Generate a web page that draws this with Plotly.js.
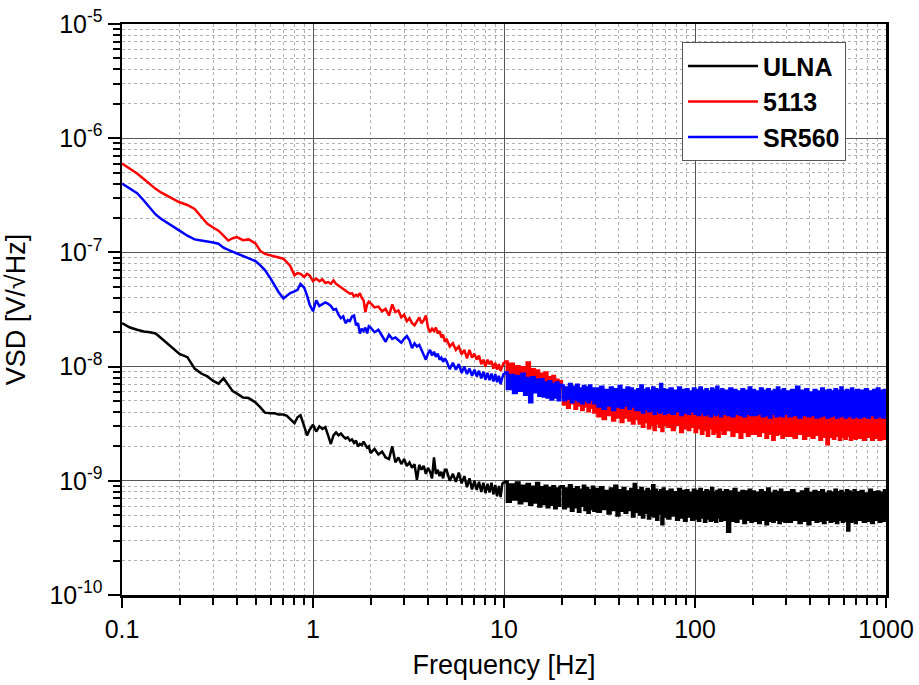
<!DOCTYPE html>
<html><head><meta charset="utf-8">
<script src="https://cdn.plot.ly/plotly-3.0.1.min.js"></script>
<style>html,body{margin:0;padding:0;background:#fff}#chart{width:919px;height:685px}</style>
</head><body><div id="chart"></div>
<script>
// Frequency grid [Hz], shared by all three spectra
const freqHz = [
0.1,0.11,0.12,0.13,0.14,0.15,0.16,0.18,0.2,0.22,0.24,0.26,0.28,0.3,0.32,0.34,0.36,0.38,0.4,0.43,0.46,0.5,0.53,0.56,0.6,0.63,0.66,0.7,0.73,0.76,0.8,0.83,0.86,0.9,0.93,0.96,
1,1.04,1.08,1.12,1.16,1.2,1.24,1.28,1.32,1.36,1.4,1.44,1.48,1.52,1.56,1.6,1.64,1.68,1.72,1.76,1.8,1.84,1.88,1.92,1.96,
2,2.1,2.2,2.3,2.4,2.5,2.6,2.7,2.8,2.9,3,3.1,3.2,3.3,3.4,3.5,3.6,3.7,3.8,3.9,4,4.1,4.2,4.3,4.4,4.5,4.6,4.7,4.8,4.9,
5,5.2,5.4,5.6,5.8,6,6.2,6.4,6.6,6.8,7,7.2,7.4,7.6,7.8,8,8.2,8.4,8.6,8.8,9,9.2,9.4,9.6,9.8,
10,10.4,10.8,11.2,11.6,12,12.4,12.8,13.2,13.6,14,14.4,14.8,15.2,15.6,16,16.4,16.8,17.2,17.6,18,18.4,18.8,19.2,19.6,
20,20.5,21,21.5,22,22.5,23,23.5,24,24.5,25,25.5,26,26.5,27,27.5,28,28.5,29,29.5,
30,31,32,33,34,35,36,37,38,39,40,41,42,43,44,45,46,47,48,49,
50,51,52,53,54,55,56,57,58,59,60,61,62,63,64,65,66,67,68,69,
70,72,74,76,78,80,82,84,86,88,90,92,94,96,98,
100,102,104,106,108,110,112,114,116,118,120,122,124,126,128,130,132,134,136,138,
140,144,148,152,156,160,164,168,172,176,180,184,188,192,196,
200,205,210,215,220,225,230,235,240,245,250,255,260,265,270,275,280,285,290,295,
300,310,320,330,340,350,360,370,380,390,400,410,420,430,440,450,460,470,480,490,
500,510,520,530,540,550,560,570,580,590,600,610,620,630,640,650,660,670,680,690,
700,720,740,760,780,800,820,840,860,880,900,920,940,960,980,1000
];

// ULNA  [V/sqrt(Hz)]
const ulna = [
2.4e-8,2.2e-8,2.1e-8,2.03e-8,2.0e-8,1.95e-8,1.78e-8,1.5e-8,1.29e-8,1.21e-8,9.6e-9,8.7e-9,8.2e-9,7.5e-9,7.1e-9,7.9e-9,7.0e-9,6.1e-9,5.8e-9,5.35e-9,5.3e-9,4.85e-9,4.4e-9,3.95e-9,3.9e-9,3.9e-9,3.8e-9,3.8e-9,3.7e-9,3.5e-9,3.2e-9,3.6e-9,3.75e-9,3.0e-9,2.5e-9,2.8e-9,
3.1e-9,2.7e-9,3.0e-9,2.85e-9,2.95e-9,2.5e-9,2.1e-9,2.5e-9,2.65e-9,2.5e-9,2.6e-9,2.45e-9,2.35e-9,2.4e-9,2.25e-9,2.3e-9,2.15e-9,2.25e-9,2.0e-9,2.1e-9,2.05e-9,2.2e-9,2.05e-9,1.95e-9,2.0e-9,
1.75e-9,1.9e-9,1.7e-9,1.8e-9,1.6e-9,1.55e-9,2.0e-9,1.45e-9,1.6e-9,1.4e-9,1.55e-9,1.35e-9,1.45e-9,1.3e-9,1.4e-9,1.02e-9,1.38e-9,1.25e-9,1.35e-9,1.15e-9,1.3e-9,1.2e-9,1.05e-9,1.6e-9,1.15e-9,1.25e-9,1.1e-9,1.2e-9,1.05e-9,1.25e-9,
1.25e-9,1.0e-9,1.15e-9,9.8e-10,1.18e-9,9.5e-10,1.1e-9,8.8e-10,1.05e-9,8.4e-10,1.0e-9,8.3e-10,9.8e-10,8.0e-10,9.6e-10,7.8e-10,9.4e-10,7.9e-10,9.6e-10,7.6e-10,9.2e-10,7.3e-10,9.0e-10,7.2e-10,9.4e-10,
9.8e-10,6.6e-10,9.2e-10,6.9e-10,9.6e-10,6.4e-10,9.0e-10,6.7e-10,9.3e-10,6.2e-10,8.8e-10,6.5e-10,9.5e-10,6.0e-10,8.7e-10,6.3e-10,9.0e-10,5.9e-10,8.6e-10,6.2e-10,8.9e-10,5.8e-10,8.5e-10,6.1e-10,8.8e-10,
8.9e-10,5.8e-10,8.5e-10,6.0e-10,9.1e-10,5.5e-10,8.4e-10,5.9e-10,8.7e-10,5.4e-10,8.3e-10,6.1e-10,9.0e-10,5.6e-10,8.6e-10,5.3e-10,8.2e-10,5.7e-10,8.8e-10,5.5e-10,
8.4e-10,5.4e-10,8.7e-10,5.7e-10,8.1e-10,5.2e-10,8.5e-10,5.6e-10,9.0e-10,5.0e-10,8.2e-10,5.5e-10,8.6e-10,5.3e-10,8.0e-10,5.6e-10,8.4e-10,4.9e-10,9.3e-10,5.4e-10,
8.2e-10,5.1e-10,8.6e-10,4.8e-10,8.0e-10,5.3e-10,8.4e-10,4.7e-10,8.1e-10,5.0e-10,9.1e-10,4.9e-10,8.3e-10,4.6e-10,7.9e-10,5.2e-10,8.2e-10,4.2e-10,8.5e-10,4.9e-10,
8.0e-10,4.7e-10,8.3e-10,5.0e-10,7.9e-10,4.6e-10,8.4e-10,4.8e-10,8.1e-10,4.5e-10,8.2e-10,4.9e-10,7.8e-10,4.6e-10,8.3e-10,
4.7e-10,8.1e-10,4.5e-10,8.4e-10,4.8e-10,7.9e-10,4.4e-10,8.2e-10,4.7e-10,8.0e-10,4.5e-10,8.6e-10,4.6e-10,7.8e-10,4.4e-10,8.1e-10,4.8e-10,8.3e-10,4.5e-10,7.9e-10,
4.6e-10,8.2e-10,3.6e-10,8.0e-10,4.5e-10,8.4e-10,4.4e-10,7.8e-10,4.7e-10,8.1e-10,4.3e-10,8.0e-10,4.6e-10,8.3e-10,4.4e-10,
8.0e-10,4.5e-10,7.8e-10,4.3e-10,8.2e-10,4.6e-10,7.9e-10,4.2e-10,8.5e-10,4.5e-10,7.7e-10,4.4e-10,8.1e-10,4.6e-10,7.9e-10,4.3e-10,8.3e-10,4.5e-10,7.8e-10,4.4e-10,
7.9e-10,4.4e-10,8.2e-10,4.6e-10,7.7e-10,4.3e-10,8.0e-10,4.5e-10,8.4e-10,4.2e-10,7.8e-10,4.6e-10,8.1e-10,4.4e-10,7.9e-10,4.5e-10,8.2e-10,4.3e-10,7.7e-10,4.6e-10,
8.0e-10,4.4e-10,7.8e-10,4.5e-10,8.3e-10,4.3e-10,7.9e-10,4.6e-10,8.1e-10,4.4e-10,7.7e-10,4.5e-10,8.2e-10,3.7e-10,8.0e-10,4.4e-10,7.8e-10,4.5e-10,8.2e-10,4.3e-10,
7.9e-10,4.6e-10,8.1e-10,4.4e-10,7.7e-10,4.5e-10,8.3e-10,4.3e-10,7.9e-10,4.6e-10,8.0e-10,4.4e-10,7.8e-10,4.5e-10,8.2e-10,4.6e-10
];

// 5113  [V/sqrt(Hz)]
const pre5113 = [
6.0e-7,5.4e-7,4.9e-7,4.4e-7,3.95e-7,3.6e-7,3.35e-7,3.0e-7,2.75e-7,2.6e-7,2.4e-7,2.05e-7,1.78e-7,1.65e-7,1.55e-7,1.4e-7,1.27e-7,1.33e-7,1.36e-7,1.28e-7,1.3e-7,1.2e-7,1.03e-7,9.7e-8,9.4e-8,9.2e-8,9.1e-8,8.8e-8,8.2e-8,7.6e-8,6.3e-8,6.6e-8,6.5e-8,6.1e-8,6.5e-8,6.3e-8,
5.6e-8,5.9e-8,5.6e-8,5.8e-8,5.4e-8,5.5e-8,5.3e-8,5.7e-8,5.3e-8,5.1e-8,4.95e-8,4.8e-8,4.6e-8,4.5e-8,4.35e-8,4.4e-8,4.1e-8,4.25e-8,4.15e-8,4.4e-8,4.0e-8,3.8e-8,3.0e-8,3.5e-8,3.7e-8,
3.6e-8,3.3e-8,3.35e-8,3.05e-8,3.2e-8,2.8e-8,3.5e-8,3.0e-8,3.1e-8,2.7e-8,2.85e-8,2.5e-8,2.65e-8,2.4e-8,2.3e-8,2.5e-8,2.7e-8,2.4e-8,2.55e-8,2.8e-8,2.2e-8,2.0e-8,2.15e-8,2.05e-8,2.2e-8,1.95e-8,2.05e-8,1.8e-8,1.9e-8,1.65e-8,
1.75e-8,1.5e-8,1.6e-8,1.4e-8,1.5e-8,1.28e-8,1.4e-8,1.18e-8,1.4e-8,1.2e-8,1.3e-8,1.15e-8,1.25e-8,1.05e-8,1.15e-8,1.0e-8,1.15e-8,1.05e-8,1.12e-8,9.6e-9,1.08e-8,9.4e-9,1.05e-8,9.2e-9,1.02e-8,
1.1e-8,8.2e-9,1.05e-8,7.8e-9,1.0e-8,7.6e-9,9.8e-9,7.9e-9,1.08e-8,7.4e-9,9.4e-9,7.0e-9,9.2e-9,6.9e-9,8.6e-9,6.5e-9,8.8e-9,6.2e-9,8.0e-9,5.7e-9,8.2e-9,6.0e-9,7.6e-9,5.5e-9,7.4e-9,
6.6e-9,4.7e-9,6.2e-9,4.4e-9,6.8e-9,4.8e-9,6.0e-9,4.3e-9,6.4e-9,4.6e-9,5.9e-9,4.2e-9,6.3e-9,4.5e-9,5.8e-9,4.1e-9,6.1e-9,4.4e-9,5.7e-9,4.0e-9,
5.5e-9,3.7e-9,5.2e-9,3.5e-9,5.6e-9,3.8e-9,5.1e-9,3.4e-9,5.4e-9,3.6e-9,5.0e-9,3.3e-9,5.3e-9,3.6e-9,5.1e-9,3.4e-9,5.4e-9,3.2e-9,5.0e-9,3.5e-9,
5.0e-9,3.2e-9,5.2e-9,3.0e-9,4.8e-9,3.3e-9,5.1e-9,2.9e-9,4.9e-9,3.1e-9,5.2e-9,2.8e-9,4.8e-9,3.2e-9,5.0e-9,3.0e-9,4.9e-9,2.75e-9,5.1e-9,3.1e-9,
4.8e-9,3.0e-9,5.0e-9,2.8e-9,4.7e-9,3.1e-9,4.9e-9,2.7e-9,4.8e-9,2.9e-9,5.0e-9,2.8e-9,4.7e-9,3.0e-9,4.9e-9,
2.7e-9,4.8e-9,2.9e-9,4.6e-9,2.6e-9,4.9e-9,2.8e-9,4.7e-9,2.5e-9,4.8e-9,2.9e-9,4.6e-9,2.6e-9,4.9e-9,2.7e-9,4.7e-9,2.45e-9,4.8e-9,2.8e-9,4.6e-9,
2.6e-9,4.7e-9,2.8e-9,4.8e-9,2.5e-9,4.6e-9,2.7e-9,4.9e-9,2.4e-9,4.7e-9,2.7e-9,4.6e-9,2.5e-9,4.8e-9,2.6e-9,
4.7e-9,2.6e-9,4.6e-9,2.5e-9,4.8e-9,2.7e-9,4.5e-9,2.4e-9,4.7e-9,2.6e-9,4.6e-9,2.3e-9,4.8e-9,2.55e-9,4.5e-9,2.6e-9,4.7e-9,2.4e-9,4.6e-9,2.5e-9,
4.6e-9,2.5e-9,4.7e-9,2.4e-9,4.5e-9,2.6e-9,4.8e-9,2.35e-9,4.6e-9,2.5e-9,4.5e-9,2.4e-9,4.7e-9,2.55e-9,4.6e-9,2.3e-9,4.8e-9,2.45e-9,4.5e-9,2.1e-9,
4.6e-9,2.45e-9,4.7e-9,2.35e-9,4.5e-9,2.5e-9,4.6e-9,2.3e-9,4.8e-9,2.45e-9,4.5e-9,2.35e-9,4.7e-9,2.5e-9,4.6e-9,2.3e-9,4.5e-9,2.4e-9,4.7e-9,2.35e-9,
4.6e-9,2.4e-9,4.5e-9,2.3e-9,4.7e-9,2.45e-9,4.6e-9,2.3e-9,4.5e-9,2.4e-9,4.7e-9,2.3e-9,4.6e-9,2.35e-9,4.5e-9,2.3e-9
];

// SR560  [V/sqrt(Hz)]
const sr560 = [
4.0e-7,3.6e-7,3.3e-7,2.85e-7,2.45e-7,2.15e-7,1.97e-7,1.75e-7,1.55e-7,1.4e-7,1.3e-7,1.27e-7,1.25e-7,1.22e-7,1.19e-7,1.1e-7,1.05e-7,1.01e-7,9.8e-8,9.3e-8,8.9e-8,8.4e-8,7.7e-8,7.0e-8,5.9e-8,5.1e-8,4.5e-8,3.95e-8,4.15e-8,4.4e-8,4.55e-8,4.7e-8,5.3e-8,4.9e-8,4.2e-8,3.5e-8,
3.05e-8,3.8e-8,3.4e-8,3.55e-8,3.65e-8,3.55e-8,3.4e-8,3.15e-8,3.2e-8,2.85e-8,2.65e-8,2.75e-8,2.4e-8,2.55e-8,2.5e-8,2.75e-8,2.8e-8,2.3e-8,2.4e-8,1.95e-8,2.15e-8,2.05e-8,2.2e-8,1.95e-8,2.25e-8,
2.2e-8,2.0e-8,2.1e-8,1.85e-8,1.65e-8,1.9e-8,1.75e-8,1.8e-8,1.7e-8,1.62e-8,1.75e-8,1.85e-8,1.7e-8,1.45e-8,1.6e-8,1.5e-8,1.55e-8,1.4e-8,1.3e-8,1.15e-8,1.3e-8,1.4e-8,1.25e-8,1.35e-8,1.22e-8,1.3e-8,1.15e-8,1.2e-8,1.1e-8,1.18e-8,
1.12e-8,9.5e-9,1.08e-8,9.4e-9,1.05e-8,8.8e-9,1.0e-8,8.6e-9,9.6e-9,8.3e-9,9.4e-9,8.2e-9,9.2e-9,7.9e-9,9.0e-9,7.7e-9,8.8e-9,7.6e-9,8.7e-9,7.4e-9,8.6e-9,7.3e-9,8.3e-9,7.0e-9,8.0e-9,
8.8e-9,6.4e-9,8.4e-9,5.9e-9,8.2e-9,6.2e-9,8.6e-9,5.7e-9,7.9e-9,4.9e-9,8.0e-9,6.0e-9,7.6e-9,5.6e-9,7.7e-9,5.5e-9,7.2e-9,5.4e-9,7.4e-9,5.2e-9,7.0e-9,5.4e-9,7.2e-9,5.1e-9,6.9e-9,
6.8e-9,5.1e-9,6.5e-9,5.3e-9,7.0e-9,4.9e-9,6.6e-9,5.2e-9,6.9e-9,5.0e-9,6.4e-9,4.8e-9,6.7e-9,5.1e-9,6.5e-9,4.9e-9,6.8e-9,5.2e-9,6.4e-9,4.8e-9,
6.4e-9,4.5e-9,6.6e-9,4.3e-9,6.2e-9,4.6e-9,6.5e-9,4.2e-9,6.3e-9,4.5e-9,6.7e-9,4.4e-9,6.2e-9,4.6e-9,6.5e-9,4.3e-9,6.4e-9,4.5e-9,6.1e-9,4.2e-9,
6.3e-9,4.2e-9,6.8e-9,4.0e-9,6.2e-9,4.3e-9,6.4e-9,4.1e-9,6.1e-9,4.2e-9,6.5e-9,3.9e-9,6.3e-9,4.2e-9,6.2e-9,4.0e-9,7.0e-9,4.1e-9,6.3e-9,3.9e-9,
6.2e-9,4.0e-9,6.4e-9,3.9e-9,6.1e-9,4.1e-9,6.5e-9,3.8e-9,6.2e-9,4.0e-9,6.3e-9,3.9e-9,6.0e-9,4.1e-9,6.4e-9,
3.9e-9,6.2e-9,3.8e-9,6.5e-9,4.0e-9,6.1e-9,3.8e-9,6.3e-9,3.9e-9,6.0e-9,3.7e-9,6.4e-9,3.9e-9,6.2e-9,3.8e-9,6.6e-9,4.0e-9,6.1e-9,3.7e-9,6.3e-9,
3.9e-9,6.1e-9,3.8e-9,6.4e-9,3.7e-9,6.2e-9,3.9e-9,6.0e-9,3.8e-9,6.3e-9,3.7e-9,6.1e-9,3.9e-9,6.5e-9,3.8e-9,
6.2e-9,3.8e-9,6.0e-9,3.9e-9,6.4e-9,3.7e-9,6.1e-9,3.8e-9,6.3e-9,3.6e-9,6.0e-9,3.9e-9,6.2e-9,3.7e-9,6.5e-9,3.8e-9,6.1e-9,3.7e-9,6.3e-9,3.9e-9,
6.0e-9,3.7e-9,6.2e-9,3.8e-9,6.6e-9,3.6e-9,6.1e-9,3.8e-9,6.3e-9,3.7e-9,5.9e-9,3.8e-9,6.2e-9,3.6e-9,6.0e-9,3.7e-9,6.4e-9,3.8e-9,6.1e-9,3.6e-9,
6.2e-9,3.7e-9,6.0e-9,3.8e-9,6.3e-9,3.6e-9,6.1e-9,3.7e-9,6.5e-9,3.8e-9,6.0e-9,3.6e-9,6.2e-9,3.7e-9,6.1e-9,3.8e-9,6.4e-9,3.6e-9,6.0e-9,3.7e-9,
6.2e-9,3.6e-9,6.1e-9,3.7e-9,6.3e-9,3.6e-9,6.0e-9,3.8e-9,6.2e-9,3.6e-9,6.4e-9,3.7e-9,6.1e-9,3.6e-9,6.2e-9,3.7e-9
];

const seriesNames = ['ULNA', '5113', 'SR560'];
const seriesColors = ['#000000', '#ff0000', '#0000ff'];

const xTickVals = [0.1, 1, 10, 100, 1000];
const xTickText = ['0.1', '1', '10', '100', '1000'];
const yTickVals = [1e-10, 1e-9, 1e-8, 1e-7, 1e-6, 1e-5];
const yTickText = ['10<sup>-10</sup>', '10<sup>-9</sup>', '10<sup>-8</sup>', '10<sup>-7</sup>', '10<sup>-6</sup>', '10<sup>-5</sup>'];

function minorTicks(decades) {
  const out = [];
  decades.forEach(d => { for (let k = 2; k <= 9; k++) out.push(k * d); });
  return out;
}
const xMinor = minorTicks([0.1, 1, 10, 100]);
const yMinor = minorTicks([1e-10, 1e-9, 1e-8, 1e-7, 1e-6]);

const FONT = 'Liberation Sans, Arial, sans-serif';
const ys = [ulna, pre5113, sr560];
// Above 10 Hz the spectra are so dense that they render as a solid band;
// that part is drawn as a step line of the same data so the band closes.
const split = freqHz.indexOf(10);
const traces = [];
ys.forEach((y, i) => {
  traces.push({
    type: 'scatter', mode: 'lines', x: freqHz.slice(0, split + 1), y: y.slice(0, split + 1),
    name: seriesNames[i], legendgroup: seriesNames[i],
    line: {color: seriesColors[i], width: 2.5}
  });
  traces.push({
    type: 'scatter', mode: 'lines', x: freqHz.slice(split), y: y.slice(split),
    name: seriesNames[i], legendgroup: seriesNames[i], showlegend: false,
    line: {color: seriesColors[i], width: 3.2, shape: 'hv'}
  });
});

const axisCommon = {
  type: 'log', tickmode: 'array', ticks: 'outside', tickwidth: 2, tickcolor: '#000',
  showline: true, linewidth: 2.5, linecolor: '#000', mirror: true,
  showgrid: true, gridcolor: '#555', gridwidth: 1, zeroline: false,
  tickfont: {family: FONT, size: 25, color: '#000'}
};

const layout = {
  width: 919, height: 685,
  margin: {l: 122, r: 33, t: 24, b: 90},
  paper_bgcolor: '#fff', plot_bgcolor: '#fff',
  showlegend: true,
  legend: {x: 0.733, y: 0.968, xanchor: 'left', yanchor: 'top', bgcolor: '#fff',
           bordercolor: '#555', borderwidth: 1, font: {family: FONT, size: 25, color: '#000', weight: 'bold'},
           itemwidth: 70, tracegroupgap: 0},
  xaxis: Object.assign({}, axisCommon, {
    range: [-1, 3], tickvals: xTickVals, ticktext: xTickText, ticklen: 10,
    title: {text: 'Frequency [Hz]', font: {family: FONT, size: 27, color: '#000'}, standoff: 14},
    minor: {tickmode: 'array', tickvals: xMinor, ticks: 'outside', ticklen: 7, tickwidth: 2, tickcolor: '#000',
            showgrid: true, gridcolor: '#b0b0b0', griddash: 'dot', gridwidth: 1}
  }),
  yaxis: Object.assign({}, axisCommon, {
    range: [-10, -5], tickvals: yTickVals, ticktext: yTickText, ticklen: 12,
    title: {text: 'VSD [V/√Hz]', font: {family: FONT, size: 27, color: '#000'}, standoff: 16},
    minor: {tickmode: 'array', tickvals: yMinor, ticks: 'outside', ticklen: 7, tickwidth: 2, tickcolor: '#000',
            showgrid: true, gridcolor: '#b0b0b0', griddash: 'dot', gridwidth: 1}
  })
};

Plotly.newPlot('chart', traces, layout, {displayModeBar: false, staticPlot: true});
</script>
</body></html>
